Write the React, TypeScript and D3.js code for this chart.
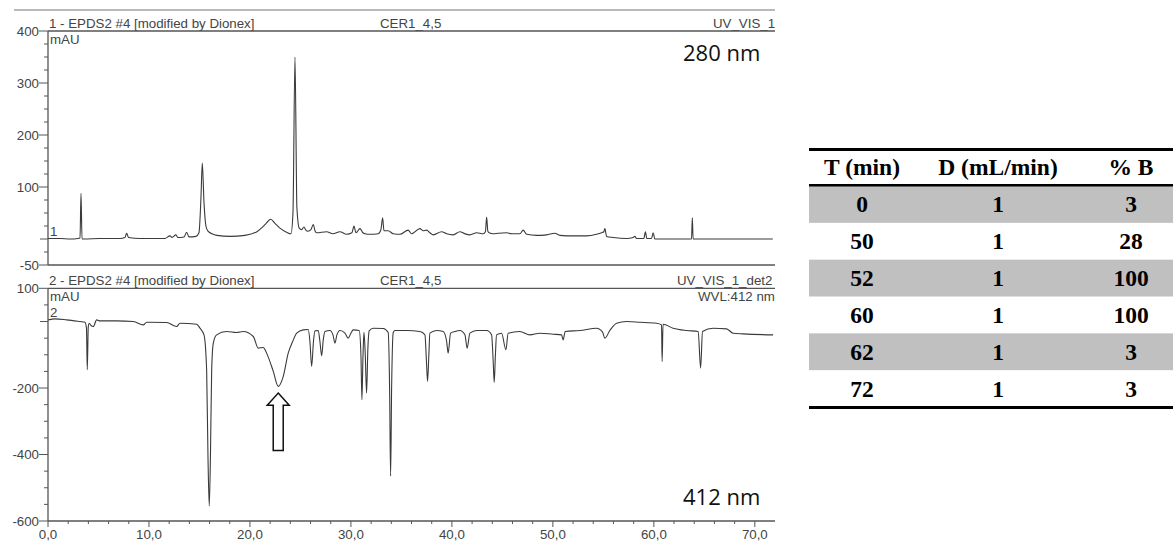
import React from "react";
import * as d3 from "d3";

// ---------- data ----------
const timeTicks = [0, 10, 20, 30, 40, 50, 60, 70];
const topMajorTicks = [400, 300, 200, 100, -50];
const bottomMajorTicks = [100, -200, -400, -600];

// 280 nm trace (time in min, absorbance in mAU)
const t280 = [0, 1.19, 2.18, 2.97, 3.17, 3.27, 3.37, 3.56, 5.15, 7.13, 7.62, 7.79, 7.97, 9.11, 11.58, 12.08, 12.28, 12.67, 12.87, 13.47, 13.73, 13.96, 14.65, 14.95, 15.15, 15.28, 15.45, 15.64, 15.84, 16.24, 16.73, 18.02, 19.5, 20.69, 21.19, 21.65, 22.05, 22.48, 22.97, 23.63, 24.06, 24.26, 24.46, 24.65, 24.88, 25.12, 25.35, 25.54, 25.74, 26.04, 26.27, 26.44, 26.6, 27.59, 28.22, 28.91, 29.57, 30.1, 30.3, 30.5, 30.89, 31.19, 31.39, 31.88, 32.7, 32.97, 33.14, 33.27, 33.69, 34.19, 34.85, 35.67, 36.01, 36.83, 37.16, 37.5, 37.82, 38.15, 38.98, 39.48, 40.13, 40.79, 41.29, 41.78, 42.45, 43.1, 43.32, 43.44, 43.56, 43.69, 44.09, 44.58, 45.42, 45.91, 46.73, 47.06, 47.4, 48.39, 49.38, 50.2, 50.69, 52.01, 53.34, 54.32, 54.82, 55.05, 55.15, 55.32, 55.97, 57.3, 57.95, 58.12, 58.29, 59.01, 59.16, 59.31, 59.77, 59.93, 60.1, 60.92, 62.57, 63.73, 63.81, 63.89, 65.87, 67.36, 69.18, 71.78];
const v280 = [1, 1, 0, 1, 2, 88, 0, 0, 1, 1, 3, 11, 3, 1, 1, 6, 3, 8, 3, 4, 13, 4, 5, 12, 80, 146, 70, 25, 15, 10, 7, 5, 7, 14, 22, 31, 38, 30, 21, 13, 10, 50, 350, 60, 21, 18, 23, 17, 15, 18, 28, 16, 12, 14, 10, 14, 9, 12, 25, 12, 20, 12, 10, 9, 10, 18, 41, 16, 16, 10, 9, 17, 10, 20, 16, 17, 12, 8, 14, 10, 8, 14, 10, 8, 12, 10, 14, 42, 15, 12, 10, 11, 12, 10, 10, 17, 9, 7, 8, 11, 7, 6, 6, 9, 12, 14, 20, 5, 3, 1, 3, 5, 1, 1, 14, 1, 1, 12, 0, 0, 0, 0, 41, 0, 0, 0, 0, 0];

// 412 nm trace
const t412 = [0.03, 0.69, 1.85, 3.17, 3.66, 3.81, 3.89, 3.99, 4.09, 4.26, 4.49, 4.82, 5.15, 6.8, 8.45, 9.44, 9.77, 11.75, 12.74, 13.07, 14.72, 15.05, 15.45, 15.71, 15.84, 15.97, 16.09, 16.21, 16.37, 16.7, 17.69, 18.68, 19.34, 20.33, 20.82, 21.32, 21.65, 22.31, 22.8, 23.3, 23.79, 24.23, 24.63, 25.28, 25.77, 25.94, 26.11, 26.29, 26.44, 26.76, 26.93, 27.1, 27.26, 27.43, 27.92, 28.22, 28.42, 28.61, 28.91, 29.41, 29.73, 30.0, 30.23, 30.82, 30.99, 31.09, 31.19, 31.29, 31.42, 31.55, 31.68, 31.81, 32.21, 33.2, 33.69, 33.83, 33.93, 34.03, 34.19, 34.36, 35.51, 36.83, 37.33, 37.48, 37.59, 37.72, 37.82, 38.49, 39.14, 39.48, 39.63, 39.87, 40.3, 40.79, 41.29, 41.51, 41.78, 42.45, 43.44, 43.93, 44.09, 44.19, 44.31, 44.42, 44.92, 45.35, 45.57, 46.73, 47.72, 48.71, 50.03, 50.86, 51.02, 51.22, 52.67, 54.33, 54.92, 55.15, 55.64, 56.31, 57.3, 58.61, 60.27, 60.76, 60.82, 60.91, 61.91, 63.24, 64.39, 64.63, 64.82, 65.87, 67.2, 67.85, 68.84, 71.81];
const v412 = [5, 8, 5, 0, -2, -20, -145, -15, -5, -12, -15, 5, 2, 2, 0, -10, -2, -3, -15, -5, -8, -20, -40, -145, -400, -555, -400, -145, -65, -40, -30, -33, -30, -45, -80, -78, -95, -150, -195, -165, -95, -60, -35, -25, -24, -60, -135, -60, -28, -27, -60, -103, -55, -30, -27, -40, -65, -40, -27, -35, -50, -35, -25, -27, -100, -235, -110, -32, -100, -215, -80, -28, -20, -21, -33, -200, -465, -200, -33, -27, -27, -30, -40, -120, -180, -100, -35, -27, -30, -60, -95, -35, -30, -27, -40, -80, -35, -27, -27, -40, -120, -183, -100, -40, -35, -85, -35, -30, -40, -35, -38, -40, -55, -30, -27, -20, -32, -50, -27, -5, 0, -2, -5, -10, -120, -8, -20, -27, -30, -140, -30, -20, -22, -35, -37, -40];

// gradient table
const tableHeaders = ["T (min)", "D (mL/min)", "% B"];
const tableTime = ["0", "50", "52", "60", "62", "72"];
const tableFlow = ["1", "1", "1", "1", "1", "1"];
const tableB = ["3", "28", "100", "100", "3", "3"];

// annotation
const arrowTime = 22.8;
const arrowTip = -215;
const arrowHeadBase = -252;
const arrowEnd = -388;

const W = 1173;
const H = 544;

export default function App() {
  const x = d3.scaleLinear().domain([0, 71.8]).range([48, 773]);
  const yTop = d3.scaleLinear().domain([-50, 400]).range([265, 31]);
  const yBot = d3.scaleLinear().domain([-600, 100]).range([521, 288.3]);

  const lineTop = d3
    .line<number>()
    .x((_, i) => x(t280[i]))
    .y((d) => yTop(d))
    .curve(d3.curveMonotoneX);
  const lineBot = d3
    .line<number>()
    .x((_, i) => x(t412[i]))
    .y((d) => yBot(d))
    .curve(d3.curveMonotoneX);

  const topMinor = d3.range(-50, 401, 25).filter((v) => !topMajorTicks.includes(v));
  const botMinor = d3.range(-600, 101, 50).filter((v) => !bottomMajorTicks.includes(v));
  const xMinor = d3.range(0, 72, 2).filter((v) => v % 10 !== 0);

  const axisColor = "#555";
  const textColor = "#444";
  const font = "'Liberation Sans', Arial, sans-serif";
  const fs = 13.3;

  const rows = d3.range(tableTime.length);
  const rowScale = d3.scaleBand<number>().domain(rows).range([186, 407]);
  const colX = [862, 998, 1131];

  const ax = x(arrowTime);
  const tip = yBot(arrowTip);
  const hb = yBot(arrowHeadBase);
  const end = yBot(arrowEnd);
  const arrowPts = [
    [ax, tip],
    [ax + 11, hb],
    [ax + 5, hb],
    [ax + 5, end],
    [ax - 5, end],
    [ax - 5, hb],
    [ax - 11, hb],
  ]
    .map((p) => p.join(","))
    .join(" ");

  return (
    <svg
      width={W}
      height={H}
      style={{ position: "absolute", left: 0, top: 0, background: "#fff" }}
      fontFamily={font}
    >
      <defs>
        <clipPath id="plotClip">
          <rect x={0} y={0} width={775} height={H} />
        </clipPath>
      </defs>
      <rect x={0} y={0} width={W} height={H} fill="#fff" />

      <g clipPath="url(#plotClip)">
        {/* outer top line */}
        <line x1={14} x2={775} y1={10} y2={10} stroke="#777" strokeWidth={1.2} />

        {/* ---- top panel header ---- */}
        <text x={49} y={28} fontSize={fs} fill={textColor}>1 - EPDS2 #4 [modified by Dionex]</text>
        <text x={380} y={28} fontSize={fs} fill={textColor}>CER1_4,5</text>
        <text x={713} y={28} fontSize={fs} fill={textColor}>UV_VIS_1</text>
        <line x1={48} x2={775} y1={yTop(400)} y2={yTop(400)} stroke={axisColor} strokeWidth={1.3} />
        <line x1={48} x2={775} y1={yTop(-50)} y2={yTop(-50)} stroke={axisColor} strokeWidth={1.3} />
        <line x1={48} x2={48} y1={yTop(400)} y2={yTop(-50)} stroke={axisColor} strokeWidth={1.3} />
        <text x={50} y={44} fontSize={fs} fill={textColor}>mAU</text>
        <text x={50} y={236} fontSize={fs} fill={textColor}>1</text>
        {topMajorTicks.map((v) => (
          <g key={"tm" + v}>
            <line x1={39} x2={48} y1={yTop(v)} y2={yTop(v)} stroke={axisColor} />
            <text x={39} y={yTop(v) + 4.5} fontSize={fs} textAnchor="end" fill={textColor}>
              {v}
            </text>
          </g>
        ))}
        {topMinor.map((v) => (
          <line key={"tn" + v} x1={v === 0 ? 40 : 44} x2={48} y1={yTop(v)} y2={yTop(v)} stroke={axisColor} />
        ))}
        <path d={lineTop(v280) || ""} fill="none" stroke="#3a3a3a" strokeWidth={1.1} />
        <text x={683} y={61} fontSize={22} fontFamily="'Open Sans', sans-serif" fill="#111">280 nm</text>

        {/* ---- bottom panel header ---- */}
        <text x={49} y={285} fontSize={fs} fill={textColor}>2 - EPDS2 #4 [modified by Dionex]</text>
        <text x={380} y={285} fontSize={fs} fill={textColor}>CER1_4,5</text>
        <text x={677} y={285} fontSize={fs} fill={textColor}>UV_VIS_1_det2</text>
        <text x={698} y={301} fontSize={fs} fill={textColor}>WVL:412 nm</text>
        <line x1={48} x2={775} y1={yBot(100)} y2={yBot(100)} stroke={axisColor} strokeWidth={1.3} />
        <line x1={48} x2={775} y1={yBot(-600)} y2={yBot(-600)} stroke={axisColor} strokeWidth={1.3} />
        <line x1={48} x2={48} y1={yBot(100)} y2={yBot(-600)} stroke={axisColor} strokeWidth={1.3} />
        <text x={50} y={301} fontSize={fs} fill={textColor}>mAU</text>
        <text x={50} y={317} fontSize={fs} fill={textColor}>2</text>
        {bottomMajorTicks.map((v) => (
          <g key={"bm" + v}>
            <line x1={39} x2={48} y1={yBot(v)} y2={yBot(v)} stroke={axisColor} />
            <text x={39} y={yBot(v) + 4.5} fontSize={fs} textAnchor="end" fill={textColor}>
              {v}
            </text>
          </g>
        ))}
        {botMinor.map((v) => (
          <line key={"bn" + v} x1={v === 0 ? 40 : 44} x2={48} y1={yBot(v)} y2={yBot(v)} stroke={axisColor} />
        ))}
        {timeTicks.map((t) => (
          <g key={"xt" + t}>
            <line x1={x(t)} x2={x(t)} y1={yBot(-600)} y2={yBot(-600) + 6} stroke={axisColor} />
            <text x={x(t)} y={539} fontSize={fs} textAnchor="middle" fill={textColor}>
              {t + ",0"}
            </text>
          </g>
        ))}
        {xMinor.map((t) => (
          <line key={"xn" + t} x1={x(t)} x2={x(t)} y1={yBot(-600)} y2={yBot(-600) + 3} stroke={axisColor} />
        ))}
        <path d={lineBot(v412) || ""} fill="none" stroke="#3a3a3a" strokeWidth={1.1} />
        <polygon points={arrowPts} fill="#fff" stroke="#111" strokeWidth={1.5} />
        <text x={683} y={505} fontSize={22} fontFamily="'Open Sans', sans-serif" fill="#111">412 nm</text>
      </g>

      {/* ---- gradient table ---- */}
      <g fontFamily="'Liberation Serif', 'Times New Roman', serif" fontWeight="bold" fontSize={23.5} fill="#000">
        {rows
          .filter((i) => i % 2 === 0)
          .map((i) => (
            <rect key={"bg" + i} x={809} y={rowScale(i)} width={W - 809} height={rowScale.bandwidth()} fill="#c0c0c0" />
          ))}
        <rect x={809} y={148} width={W - 809} height={3} fill="#000" />
        <rect x={809} y={184} width={W - 809} height={2.5} fill="#000" />
        <rect x={809} y={406} width={W - 809} height={3} fill="#000" />
        {tableHeaders.map((h, j) => (
          <text key={"h" + j} x={colX[j]} y={175} textAnchor="middle">
            {h}
          </text>
        ))}
        {rows.map((i) => {
          const cy = (rowScale(i) as number) + rowScale.bandwidth() / 2 + 8;
          return (
            <g key={"r" + i}>
              <text x={colX[0]} y={cy} textAnchor="middle">{tableTime[i]}</text>
              <text x={colX[1]} y={cy} textAnchor="middle">{tableFlow[i]}</text>
              <text x={colX[2]} y={cy} textAnchor="middle">{tableB[i]}</text>
            </g>
          );
        })}
      </g>
    </svg>
  );
}
